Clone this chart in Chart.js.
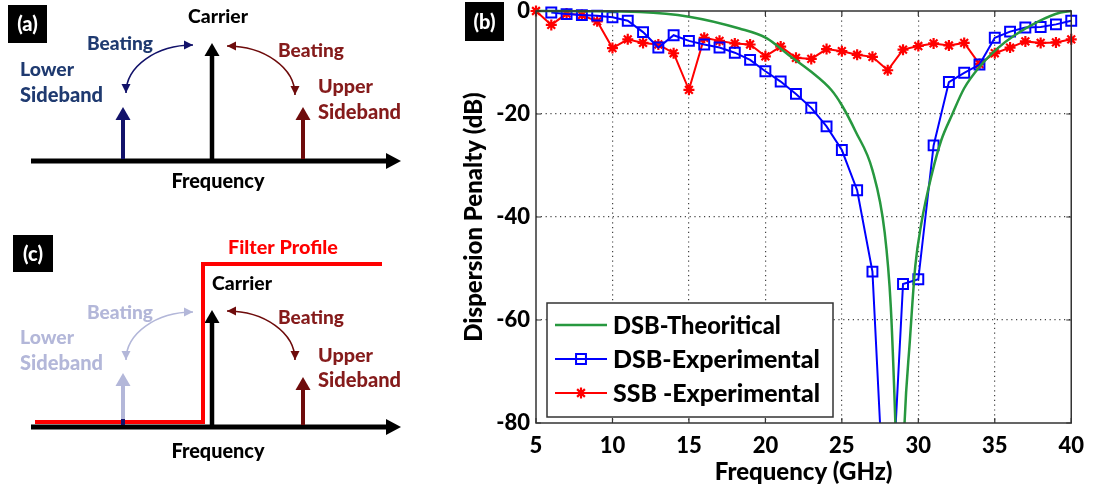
<!DOCTYPE html>
<html><head><meta charset="utf-8">
<script src="https://cdn.jsdelivr.net/npm/chart.js@4.4.1/dist/chart.umd.min.js"></script>
<style>html,body{margin:0;padding:0;background:#fff;overflow:hidden}canvas{display:block}</style>
</head><body>
<canvas id="c" width="1094" height="491"></canvas>
<script>
// ---- data (panel b) ----
const freqExp = [5,6,7,8,9,10,11,12,13,14,15,16,17,18,19,20,21,22,23,24,25,26,27,28,29,30,31,32,33,34,35,36,37,38,39,40];
const dsbExp  = [null,-0.3,-0.6,-0.8,-0.9,-1.2,-1.9,-4.1,-7.1,-4.7,-5.8,-6.5,-7.1,-8.1,-9.5,-11.7,-13.7,-16.1,-18.8,-22.4,-27.0,-34.8,-50.6,-110,-53.0,-52.1,-26.1,-13.8,-12.0,-10.4,-5.2,-4.0,-3.2,-3.1,-2.6,-1.9];
const ssbExp  = [0,-2.7,-0.5,-0.8,-2.0,-7.2,-5.5,-6.2,-6.5,-8.2,-15.3,-5.2,-5.8,-6.3,-6.5,-8.8,-6.9,-9.1,-9.3,-7.4,-7.8,-8.5,-8.9,-11.5,-7.5,-6.8,-6.3,-6.7,-6.2,-10.3,-8.2,-7.1,-5.9,-6.2,-6.1,-5.5];
const freqTheory = [5,8,11.8,15,18.3,20.1,21.5,23,24.3,25,25.9,27,27.8,28.2,28.5,28.8,29.1,29.45,29.8,30.2,30.9,31.5,32.2,33,34.1,35.2,36.3,37.8,39.3,40];
const dsbTheory  = [0,-0.05,-0.2,-1.1,-3.4,-5.3,-8.5,-11.8,-15.3,-18.3,-23.4,-30.9,-43,-57.4,-80,-110,-80,-63.9,-49.6,-41.2,-31.5,-25.1,-20.2,-15,-10.5,-7.2,-4.7,-2.1,-0.3,0];
const xTicks = [5,10,15,20,25,30,35,40];
const yTicks = [0,-20,-40,-60,-80];
const seriesNames = ['DSB-Theoritical','DSB-Experimental','SSB -Experimental'];

const toXY = (xs, ys) => xs.map((x,i)=>({x, y: ys[i]})).filter(p => p.y !== null);

const FONT = 'Lato, "Open Sans", sans-serif';
const W = '900';
const NAVY_T = '#1f3a70', NAVY_A = '#12126a';
const RED_T = '#851b1b', RED_A = '#6e0b0b';
const LIGHT = '#b3b7d9';

function arrowHead(ctx, x, y, angle, len, halfW, color) {
  ctx.save(); ctx.translate(x, y); ctx.rotate(angle);
  ctx.beginPath(); ctx.moveTo(0,0); ctx.lineTo(-len,-halfW); ctx.lineTo(-len,halfW); ctx.closePath();
  ctx.fillStyle = color; ctx.fill(); ctx.restore();
}
function vArrow(ctx, x, yBase, yTip, color, w) {
  ctx.strokeStyle = color; ctx.lineWidth = w; ctx.lineCap = 'butt';
  ctx.beginPath(); ctx.moveTo(x, yBase); ctx.lineTo(x, yTip + 11); ctx.stroke();
  arrowHead(ctx, x, yTip, -Math.PI/2, 13, 7.5, color);
}
function hAxis(ctx, x0, x1, y) {
  ctx.strokeStyle = '#000'; ctx.lineWidth = 5;
  ctx.beginPath(); ctx.moveTo(x0, y); ctx.lineTo(x1 - 12, y); ctx.stroke();
  arrowHead(ctx, x1, y, 0, 15, 8, '#000');
}
function arcArrow(ctx, cx, cy, rx, ry, a0, a1, color, ang0, ang1) {
  ctx.strokeStyle = color; ctx.lineWidth = 1.6;
  ctx.beginPath(); ctx.ellipse(cx, cy, rx, ry, 0, a0, a1); ctx.stroke();
  const p0 = [cx + rx*Math.cos(a0), cy + ry*Math.sin(a0)];
  const p1 = [cx + rx*Math.cos(a1), cy + ry*Math.sin(a1)];
  arrowHead(ctx, p0[0], p0[1], ang0, 9, 4.5, color);
  arrowHead(ctx, p1[0], p1[1], ang1, 9, 4.5, color);
}
// draws text scaled so that it spans the target width measured on the reference
function txtW(ctx, s, x, y, color, width, align, baseline) {
  ctx.font = W + ' 20px ' + FONT;
  const size = 20 * width / ctx.measureText(s).width;
  ctx.font = W + ' ' + size.toFixed(2) + 'px ' + FONT;
  ctx.fillStyle = color; ctx.textAlign = align || 'left'; ctx.textBaseline = baseline || 'alphabetic';
  ctx.fillText(s, x, y);
}
function tag(ctx, s, x0, y0, x1, y1) {
  ctx.fillStyle = '#000'; ctx.fillRect(x0, y0, x1-x0, y1-y0);
  ctx.font = W + ' 20px ' + FONT; ctx.fillStyle = '#fff';
  ctx.textAlign = 'center'; ctx.textBaseline = 'middle';
  ctx.fillText(s, (x0+x1)/2, (y0+y1)/2 + 1);
}

function drawSchematics(ctx) {
  // (a)
  tag(ctx, '(a)', 8, 5, 47, 43);
  hAxis(ctx, 31, 401, 161);
  vArrow(ctx, 212, 159, 43, '#000', 4.5);
  vArrow(ctx, 123, 159, 107, NAVY_A, 4);
  vArrow(ctx, 303, 159, 107, RED_A, 4);
  arcArrow(ctx, 193, 93, 67, 48, Math.PI, 1.5*Math.PI, NAVY_A, Math.PI/2, 0);
  arcArrow(ctx, 227, 95, 68, 49, 1.5*Math.PI, 2*Math.PI, RED_A, Math.PI, Math.PI/2);
  txtW(ctx, 'Carrier', 218, 23, '#000', 60, 'center');
  txtW(ctx, 'Beating', 87, 50, NAVY_T, 66);
  txtW(ctx, 'Lower', 20, 76, NAVY_T, 54);
  txtW(ctx, 'Sideband', 20, 102, NAVY_T, 83);
  txtW(ctx, 'Beating', 278, 57, RED_T, 66);
  txtW(ctx, 'Upper', 318, 93, RED_T, 55);
  txtW(ctx, 'Sideband', 318, 119, RED_T, 83);
  txtW(ctx, 'Frequency', 218, 188, '#000', 93, 'center');

  // (c)
  tag(ctx, '(c)', 13, 235, 53, 272);
  hAxis(ctx, 31, 401, 427);
  vArrow(ctx, 212, 425, 310, '#000', 4.5);
  vArrow(ctx, 123, 425, 373, LIGHT, 4);
  vArrow(ctx, 303, 425, 377, RED_A, 4);
  ctx.strokeStyle = '#ff0000'; ctx.lineWidth = 4; ctx.lineJoin = 'miter';
  ctx.beginPath(); ctx.moveTo(35, 422); ctx.lineTo(203, 422); ctx.lineTo(203, 264); ctx.lineTo(382, 264); ctx.stroke();
  ctx.fillStyle = NAVY_A; ctx.fillRect(121, 419, 4, 6);
  arcArrow(ctx, 193, 360, 67, 48, Math.PI, 1.5*Math.PI, LIGHT, Math.PI/2, 0);
  arcArrow(ctx, 227, 360, 68, 49, 1.5*Math.PI, 2*Math.PI, RED_A, Math.PI, Math.PI/2);
  txtW(ctx, 'Filter Profile', 228, 254, '#ff0000', 110);
  txtW(ctx, 'Carrier', 212, 290, '#000', 60);
  txtW(ctx, 'Beating', 87, 319, LIGHT, 66);
  txtW(ctx, 'Lower', 20, 344, LIGHT, 54);
  txtW(ctx, 'Sideband', 20, 370, LIGHT, 83);
  txtW(ctx, 'Beating', 278, 324, RED_T, 66);
  txtW(ctx, 'Upper', 318, 362, RED_T, 55);
  txtW(ctx, 'Sideband', 318, 387, RED_T, 83);
  txtW(ctx, 'Frequency', 218, 458, '#000', 93, 'center');
}

const legendWidths = [168, 207, 207];

const decor = {
  id: 'decor',
  afterDraw(chart) {
    const ctx = chart.ctx, a = chart.chartArea;
    const xs = chart.scales.x, ys = chart.scales.y;
    ctx.save();
    // box
    ctx.strokeStyle = '#333'; ctx.lineWidth = 1.5;
    ctx.strokeRect(a.left, a.top, a.right - a.left, a.bottom - a.top);
    // inward ticks on all sides
    ctx.lineWidth = 1.2; ctx.beginPath();
    xTicks.forEach(v => { const px = xs.getPixelForValue(v);
      ctx.moveTo(px, a.bottom); ctx.lineTo(px, a.bottom - 5);
      ctx.moveTo(px, a.top); ctx.lineTo(px, a.top + 5); });
    yTicks.forEach(v => { const py = ys.getPixelForValue(v);
      ctx.moveTo(a.left, py); ctx.lineTo(a.left + 5, py);
      ctx.moveTo(a.right, py); ctx.lineTo(a.right - 5, py); });
    ctx.stroke();
    // legend
    const L = {x0: 547, y0: 303, x1: 833, y1: 417};
    ctx.fillStyle = '#fff'; ctx.fillRect(L.x0, L.y0, L.x1 - L.x0, L.y1 - L.y0);
    ctx.strokeStyle = '#333'; ctx.lineWidth = 1.5;
    ctx.strokeRect(L.x0, L.y0, L.x1 - L.x0, L.y1 - L.y0);
    const rows = [325, 359, 393];
    chart.data.datasets.forEach((ds, i) => {
      const y = rows[i];
      ctx.strokeStyle = ds.borderColor; ctx.lineWidth = ds.borderWidth;
      ctx.beginPath(); ctx.moveTo(555, y); ctx.lineTo(607, y); ctx.stroke();
      if (ds.pointRadius > 0) {
        ctx.fillStyle = ds.pointBackgroundColor; ctx.strokeStyle = ds.pointBorderColor; ctx.lineWidth = ds.pointBorderWidth;
        Chart.helpers.drawPoint(ctx, {pointStyle: ds.pointStyle, radius: ds.pointRadius, borderWidth: ds.pointBorderWidth, rotation: 0}, 581, y);
      }
      txtW(ctx, ds.label, 613, y + 1, '#000', legendWidths[i], 'left', 'middle');
    });
    // (b) tag
    tag(ctx, '(b)', 465, 2, 504, 41);
    drawSchematics(ctx);
    ctx.restore();
  }
};

const edgeX = v => v === xTicks[0] || v === xTicks[xTicks.length-1];
const edgeY = v => v === yTicks[0] || v === yTicks[yTicks.length-1];
const clipOpt = {left: 10, top: 10, right: 10, bottom: 0};

new Chart(document.getElementById('c'), {
  type: 'line',
  data: { datasets: [
    { label: seriesNames[0], data: toXY(freqTheory, dsbTheory), borderColor: '#27983f', borderWidth: 2.5,
      pointRadius: 0, cubicInterpolationMode: 'monotone', clip: clipOpt },
    { label: seriesNames[1], data: toXY(freqExp, dsbExp), borderColor: '#0000ff', borderWidth: 2,
      pointStyle: 'rect', pointRadius: 7, pointBorderWidth: 2, pointBackgroundColor: 'rgba(255,255,255,0)',
      pointBorderColor: '#0000ff', tension: 0, clip: clipOpt },
    { label: seriesNames[2], data: toXY(freqExp, ssbExp), borderColor: '#ff0000', borderWidth: 2,
      pointStyle: 'star', pointRadius: 5.5, pointBorderWidth: 2.2, pointBackgroundColor: '#ff0000',
      pointBorderColor: '#ff0000', tension: 0, clip: clipOpt }
  ]},
  options: {
    responsive: false, animation: false, devicePixelRatio: 1,
    layout: { padding: { left: 450, right: 20, top: 11, bottom: 0 } },
    plugins: { legend: { display: false }, tooltip: { enabled: false } },
    scales: {
      x: { type: 'linear', min: 5, max: 40,
        afterBuildTicks: s => { s.ticks = xTicks.map(v => ({value: v})); },
        afterFit: s => { s.height = 68; },
        grid: { color: c => edgeX(c.tick.value) ? 'rgba(0,0,0,0)' : '#444', lineWidth: 1.2, drawTicks: false },
        border: { display: false, dash: [1.2, 3.6] },
        ticks: { color: '#000', padding: 10, maxRotation: 0, font: { family: FONT, weight: W, size: 22 } },
        title: { display: true, text: 'Frequency (GHz)', color: '#000', padding: { top: 0, bottom: 4 },
          font: { family: FONT, weight: W, size: 24 } } },
      y: { type: 'linear', min: -80, max: 0,
        afterBuildTicks: s => { s.ticks = yTicks.map(v => ({value: v})); },
        afterFit: s => { s.width = 86; },
        grid: { color: c => edgeY(c.tick.value) ? 'rgba(0,0,0,0)' : '#444', lineWidth: 1.2, drawTicks: false },
        border: { display: false, dash: [1.2, 3.6] },
        ticks: { color: '#000', padding: 6, font: { family: FONT, weight: W, size: 22, lineHeight: 0.45 } },
        title: { display: true, text: 'Dispersion Penalty (dB)', color: '#000', padding: { top: 9.6, bottom: 0 },
          font: { family: FONT, weight: W, size: 24 } } }
    }
  },
  plugins: [decor]
});
</script>
</body></html>
